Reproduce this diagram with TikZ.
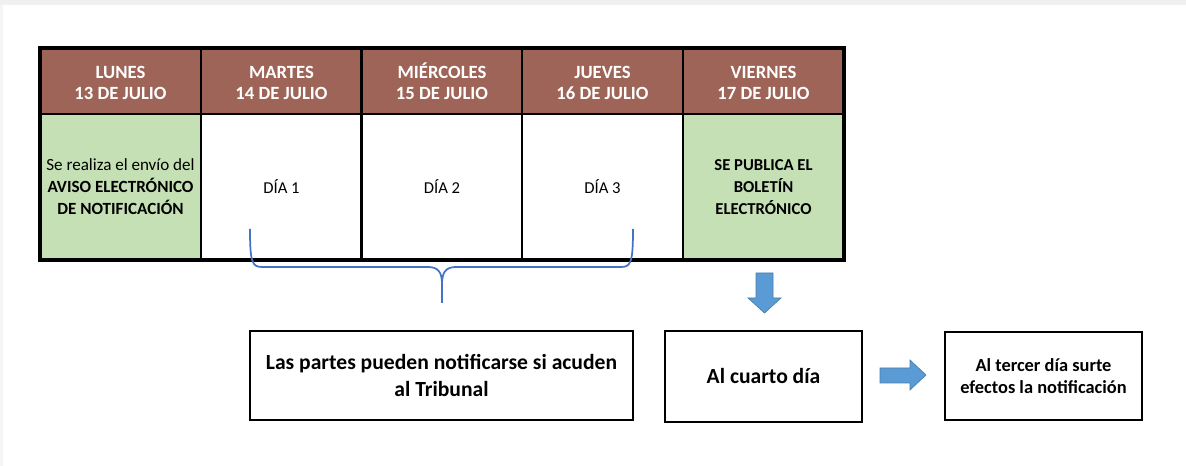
\documentclass[tikz,border=0pt]{standalone}
\usepackage{fontspec}
\setmainfont{Carlito}
\usetikzlibrary{positioning}

\definecolor{hbrown}{HTML}{9E6457}
\definecolor{cgreen}{HTML}{C5E0B4}
\definecolor{bracecol}{HTML}{4472C4}
\definecolor{arrowcol}{HTML}{5B9BD5}

\tikzset{
  hcell/.style={draw=black, line width=2.2pt, fill=hbrown, text=white, align=center, inner sep=0pt,
    minimum width=120.75pt, minimum height=49.5pt, font=\bfseries\fontsize{14}{16}\selectfont},
  bcell/.style={draw=black, line width=2.2pt, fill=white, align=center, inner sep=0pt,
    minimum width=120.75pt, minimum height=109.5pt, font=\fontsize{12.5}{16.5}\selectfont},
  gcell/.style={bcell, fill=cgreen, font=\fontsize{12.8}{16.5}\selectfont},
  notebox/.style={draw=black, line width=2.2pt, fill=white, align=center, inner sep=0pt, font=\bfseries},
  blockarrow/.style={fill=arrowcol, draw=arrowcol!80!black, line width=0.5pt},
}

\begin{document}
\begin{tikzpicture}[x=0.75pt, y=-0.75pt]
    \useasboundingbox (0,0) rectangle (1186,466);
    \fill[gray!12] (0,0) rectangle (1186,5);
    \fill[gray!8] (0,5) rectangle (3,466);

    % encabezados
    \node[hcell] (h1) at (120.5,81) {\vphantom{É}LUNES\\13 DE JULIO};
    \node[hcell] (h2) at (281.5,81) {\vphantom{É}MARTES\\14 DE JULIO};
    \node[hcell] (h3) at (442,81) {MIÉRCOLES\\15 DE JULIO};
    \node[hcell] (h4) at (602.5,81) {\vphantom{É}JUEVES\\16 DE JULIO};
    \node[hcell] (h5) at (763.5,81) {\vphantom{É}VIERNES\\17 DE JULIO};

    % dias
    \node[gcell] (b1) at (120.5,187) {Se realiza el envío del\\\textbf{AVISO ELECTRÓNICO}\\\textbf{DE NOTIFICACIÓN}};
    \node[bcell] (b2) at (281.5,187) {DÍA 1};
    \node[bcell] (b3) at (442,187) {DÍA 2};
    \node[bcell] (b4) at (602.5,187) {DÍA 3};
    \node[gcell, font=\bfseries\fontsize{12.5}{16.5}\selectfont] (b5) at (763.5,187) {SE PUBLICA EL\\BOLETÍN\\ELECTRÓNICO};
    \draw[line width=2.8pt] (40,48) rectangle (844,260);

    % llave
    \coordinate (bl) at (250,229);
    \coordinate (br) at (633,229);
    \coordinate (bt) at (442,303);
    \draw[bracecol, line width=1.3pt] (bl) .. controls (250,262) and (252,267) .. (262,267) -- (428,267)
        .. controls (438,267) and (442,272) .. (442,284) -- (bt);
    \draw[bracecol, line width=1.3pt] (br) .. controls (633,262) and (631,267) .. (621,267) -- (456,267)
        .. controls (446,267) and (442,272) .. (442,284);

    % cuadros de abajo
    \node[notebox, minimum width=287.25pt, minimum height=66.75pt, font=\bfseries\fontsize{16.2}{20}\selectfont] (p1) at (441.5,375.5)
        {Las partes pueden notificarse si acuden\\al Tribunal};
    \node[notebox, minimum width=147.75pt, minimum height=68.25pt, font=\bfseries\fontsize{16.2}{18}\selectfont] (p2) at (763.5,376.5)
        {Al cuarto día};
    \node[notebox, minimum width=147.75pt, minimum height=66pt, font=\bfseries\fontsize{13.8}{16}\selectfont] (p3) at (1043.5,376)
        {Al tercer día surte\\efectos la notificación};

    % flechas
    \draw[blockarrow] (756,273) -- (773,273) -- (773,298) -- (781,298) -- (764.5,313) -- (748,298) -- (756,298) -- cycle;
    \draw[blockarrow] (880,368) -- (910,368) -- (910,360) -- (926,375) -- (910,390) -- (910,383) -- (880,383) -- cycle;
\end{tikzpicture}
\end{document}
